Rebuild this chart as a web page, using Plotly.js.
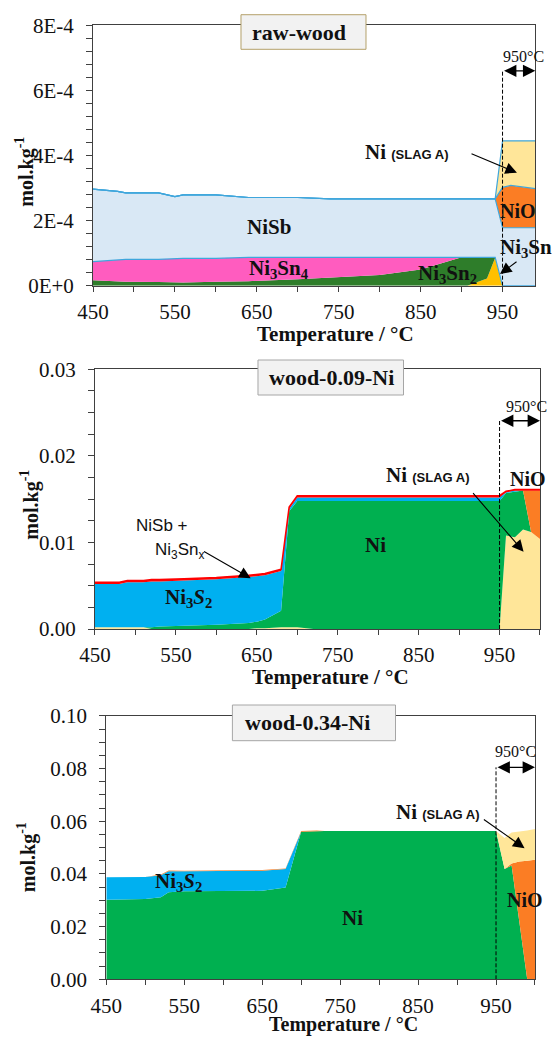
<!DOCTYPE html>
<html>
<head>
<meta charset="utf-8">
<script src="https://cdn.plot.ly/plotly-3.0.1.min.js"></script>
<style>
  html, body { margin: 0; padding: 0; background: #ffffff; }
  #chart { width: 552px; height: 1037px; }
</style>
</head>
<body>
<div id="chart"></div>
<script>
// ---------- raw-wood: Ni species amounts (mol/kg), stacked ----------
const tempRaw     = [450, 480, 490, 530, 550, 560, 600, 620, 640, 700, 740, 800, 850, 898, 907, 931, 941, 950, 960, 990];
const rawNi3Sn    = [0, 0, 0, 0, 0, 0, 0, 0, 0, 0, 0, 0, 0, 0, 0, 0.22e-4, 0.86e-4, 0, 0, 0];
const rawNi3Sn2   = [0.17e-4, 0.12e-4, 0.12e-4, 0.11e-4, 0.10e-4, 0.10e-4, 0.12e-4, 0.13e-4, 0.14e-4, 0.20e-4, 0.25e-4, 0.33e-4, 0.50e-4, 0.86e-4, 0.86e-4, 0.64e-4, 0, 0, 0, 0];
const rawNi3Sn4   = [0.57e-4, 0.67e-4, 0.69e-4, 0.70e-4, 0.74e-4, 0.74e-4, 0.72e-4, 0.73e-4, 0.73e-4, 0.67e-4, 0.62e-4, 0.54e-4, 0.37e-4, 0.01e-4, 0.01e-4, 0.01e-4, 0.01e-4, 0, 0, 0];
const rawNiSb     = [2.23e-4, 2.11e-4, 2.04e-4, 2.04e-4, 1.90e-4, 1.95e-4, 1.95e-4, 1.89e-4, 1.84e-4, 1.84e-4, 1.80e-4, 1.80e-4, 1.80e-4, 1.80e-4, 1.80e-4, 1.80e-4, 1.80e-4, 1.78e-4, 1.78e-4, 1.78e-4];
const rawNiO      = [0, 0, 0, 0, 0, 0, 0, 0, 0, 0, 0, 0, 0, 0, 0, 0, 0, 1.24e-4, 1.30e-4, 1.20e-4];
const rawNiSlag   = [0, 0, 0, 0, 0, 0, 0, 0, 0, 0, 0, 0, 0, 0, 0, 0, 0, 1.43e-4, 1.37e-4, 1.47e-4];
const rawYTicks   = [0, 2e-4, 4e-4, 6e-4, 8e-4];
const rawYLabels  = ['0E+0', '2E-4', '4E-4', '6E-4', '8E-4'];

// ---------- wood-0.09-Ni ----------
const temp009     = [450, 480, 490, 510, 520, 530, 560, 600, 640, 650, 660, 680, 690, 700, 720, 950, 958, 969, 979, 989, 1000];
const w009Slag    = [0.0002, 0.0002, 0.0002, 0.0002, 0, 0, 0, 0, 0, 0.0001, 0.0001, 0.0002, 0.0002, 0.0002, 0, 0, 0.0108, 0.0106, 0.0115, 0.0112, 0.0104];
const w009Ni      = [0, 0, 0, 0, 0.0002, 0.0003, 0.00035, 0.0005, 0.0007, 0.00075, 0.0010, 0.0019, 0.0134, 0.0146, 0.0148, 0.0148, 0.0049, 0.0053, 0.0045, 0, 0];
const w009NiO     = [0, 0, 0, 0, 0, 0, 0, 0, 0, 0, 0, 0, 0, 0, 0, 0, 0, 0, 0, 0.0048, 0.0056];
const w009Ni3S2   = [0.0050, 0.0050, 0.0052, 0.0052, 0.0053, 0.0052, 0.00525, 0.00525, 0.0053, 0.00525, 0.0051, 0.0046, 0.0003, 0.0004, 0.0004, 0.0004, 0.0001, 0.0001, 0, 0, 0];
const w009NiSbSn  = [0.0002, 0.0002, 0.0002, 0.0002, 0.0002, 0.0002, 0.0002, 0.0002, 0.0002, 0.0002, 0.0002, 0.0002, 0.0002, 0.0002, 0.0002, 0.0002, 0.0001, 0.0001, 0.0001, 0.0001, 0.0001];

// ---------- wood-0.34-Ni ----------
const temp034     = [450, 500, 520, 530, 550, 650, 680, 700, 720, 730, 950, 961, 970, 980, 990, 1000];
const w034Ni      = [0.0302, 0.0305, 0.0312, 0.0331, 0.0334, 0.0336, 0.0349, 0.0560, 0.0562, 0.0563, 0.0563, 0.0419, 0.0432, 0.0220, 0, 0];
const w034Ni3S2   = [0.0086, 0.0084, 0.0083, 0.0079, 0.0076, 0.0076, 0.0070, 0, 0, 0, 0, 0, 0, 0, 0, 0];
const w034NiO     = [0, 0, 0.0003, 0.0003, 0.0002, 0.0003, 0.0002, 0.0003, 0.0003, 0, 0, 0, 0.0008, 0.0227, 0.0450, 0.0454];
const w034Slag    = [0, 0, 0, 0, 0, 0, 0, 0, 0, 0, 0, 0.0118, 0.0118, 0.0114, 0.0115, 0.0117];

// ---------- styling ----------
const SERIF = '"Liberation Serif", "DejaVu Serif", serif';
const SANS = '"Liberation Sans", "DejaVu Sans", sans-serif';
const AXIS_COL = '#404040';
const TXT = '#111111';

const C = {
  ni3sn: '#ffc000', ni3sn2: '#2e7d2a', ni3sn4: '#ff5cbf', nisbLight: '#d9e8f5',
  outline: '#3fa6dc', nio: '#fb7d24', slag: '#ffe699', ni: '#00b050',
  ni3s2: '#00b0f0', red: '#ff0000'
};

function area(x, y, name, fill, group, xa, ya, line) {
  return {
    type: 'scatter', mode: 'lines', x: x, y: y, name: name,
    stackgroup: group, fillcolor: fill,
    line: line || { width: 0, color: fill },
    xaxis: xa, yaxis: ya, hoverinfo: 'skip', showlegend: false
  };
}
const blueEdge = { width: 1.2, color: C.outline };

const traces = [
  // raw-wood
  area(tempRaw, rawNi3Sn,  'Ni3Sn',  C.ni3sn,  'p1', 'x', 'y'),
  area(tempRaw, rawNi3Sn2, 'Ni3Sn2', C.ni3sn2, 'p1', 'x', 'y'),
  area(tempRaw, rawNi3Sn4, 'Ni3Sn4', C.ni3sn4, 'p1', 'x', 'y', blueEdge),
  area(tempRaw, rawNiSb,   'NiSb',   C.nisbLight, 'p1', 'x', 'y', blueEdge),
  area(tempRaw, rawNiO,    'NiO',    C.nio,    'p1', 'x', 'y', blueEdge),
  area(tempRaw, rawNiSlag, 'Ni (SLAG A)', C.slag, 'p1', 'x', 'y', blueEdge),
  // wood-0.09-Ni
  area(temp009, w009Slag,   'Ni (SLAG A)', C.slag, 'p2', 'x2', 'y2'),
  area(temp009, w009Ni,     'Ni',    C.ni,    'p2', 'x2', 'y2'),
  area(temp009, w009NiO,    'NiO',   C.nio,   'p2', 'x2', 'y2'),
  area(temp009, w009Ni3S2,  'Ni3S2', C.ni3s2, 'p2', 'x2', 'y2'),
  area(temp009, w009NiSbSn, 'NiSb + Ni3Snx', C.red, 'p2', 'x2', 'y2', { width: 1.6, color: C.red }),
  // wood-0.34-Ni
  area(temp034, w034Ni,    'Ni',    C.ni,    'p3', 'x3', 'y3'),
  area(temp034, w034Ni3S2, 'Ni3S2', C.ni3s2, 'p3', 'x3', 'y3'),
  area(temp034, w034NiO,   'NiO',   C.nio,   'p3', 'x3', 'y3'),
  area(temp034, w034Slag,  'Ni (SLAG A)', C.slag, 'p3', 'x3', 'y3')
];

function xAxis(domain, anchor, range) {
  return {
    domain: domain, anchor: anchor, range: range,
    tick0: 450, dtick: 100, ticks: 'outside', ticklen: 5, tickwidth: 1, tickcolor: AXIS_COL,
    minor: { tick0: 450, dtick: 50, ticks: 'outside', ticklen: 5, tickwidth: 1, tickcolor: AXIS_COL, showgrid: false },
    showline: true, linecolor: AXIS_COL, linewidth: 1, mirror: true,
    showgrid: false, zeroline: false, ticklabelstandoff: 2,
    tickfont: { family: SERIF, size: 21, color: TXT }, fixedrange: true
  };
}
function yAxis(domain, anchor, range, extra) {
  return Object.assign({
    domain: domain, anchor: anchor, range: range,
    ticks: 'outside', ticklen: 6, tickwidth: 1, tickcolor: AXIS_COL,
    showline: true, linecolor: AXIS_COL, linewidth: 1, mirror: true,
    showgrid: false, zeroline: false, ticklabelstandoff: 8,
    tickfont: { family: SERIF, size: 21, color: TXT }, fixedrange: true
  }, extra);
}
function minorY(d) {
  return { tick0: 0, dtick: d, ticks: 'outside', ticklen: 6, tickwidth: 1, tickcolor: AXIS_COL, showgrid: false };
}

function label(xa, ya, x, y, text, size, font) {
  return {
    xref: xa, yref: ya, x: x, y: y, text: text, showarrow: false,
    font: { family: font || SERIF, size: size || 21, color: TXT },
    xanchor: 'center', yanchor: 'middle'
  };
}
function pointer(xa, ya, x, y, ax, ay) {
  return {
    xref: xa, yref: ya, axref: xa, ayref: ya, x: x, y: y, ax: ax, ay: ay,
    text: '', showarrow: true, arrowhead: 2, arrowsize: 2.1, arrowwidth: 1.1, arrowcolor: '#000'
  };
}
function span(xa, ya, x0, x1, y) {
  return {
    xref: xa, yref: ya, axref: xa, ayref: ya, x: x1, y: y, ax: x0, ay: y,
    text: '', showarrow: true, arrowhead: 2, startarrowhead: 2, arrowside: 'end+start',
    arrowsize: 1.9, startarrowsize: 1.9, arrowwidth: 1.3, arrowcolor: '#000'
  };
}
function slagText() {
  return '<b>Ni</b> <span style="font-family:Liberation Sans, sans-serif;font-size:13px;font-weight:bold">(SLAG A)</span>';
}
function paperText(x, y, text, size, angle) {
  return {
    xref: 'paper', yref: 'paper', x: x, y: y, text: text, showarrow: false,
    font: { family: SERIF, size: size, color: TXT }, textangle: angle || 0,
    xanchor: 'center', yanchor: 'middle'
  };
}

const annotations = [
  // raw-wood
  label('x', 'y', 665, 1.81e-4, '<b>NiSb</b>'),
  label('x', 'y', 677, 0.51e-4, '<b>Ni<sub>3</sub>Sn<sub>4</sub></b>'),
  label('x', 'y', 883, 0.36e-4, '<b>Ni<sub>3</sub>Sn<sub>2</sub></b>'),
  label('x', 'y', 969, 2.29e-4, '<b>NiO</b>', 20),
  label('x', 'y', 979, 1.15e-4, '<b>Ni<sub>3</sub>Sn</b>'),
  label('x', 'y', 833, 4.12e-4, slagText()),
  pointer('x', 'y', 946.9, 0.36e-4, 968.9, 0.77e-4),
  pointer('x', 'y', 967.6, 3.47e-4, 910.3, 4.07e-4),
  label('x', 'y', 975, 7.03e-4, '950°C', 16),
  span('x', 'y', 950, 990, 6.6e-4),
  // wood-0.09-Ni
  label('x2', 'y2', 533, 0.01201, 'NiSb +', 17, SANS),
  label('x2', 'y2', 555, 0.00905, 'Ni<sub>3</sub>Sn<sub>x</sub>', 17, SANS),
  pointer('x2', 'y2', 642.4, 0.00586, 582.9, 0.00905),
  label('x2', 'y2', 565.4, 0.00362, '<b>Ni<sub>3</sub><i>S</i><sub>2</sub></b>'),
  label('x2', 'y2', 797.3, 0.0097, '<b>Ni</b>'),
  label('x2', 'y2', 861.6, 0.01779, slagText()),
  pointer('x2', 'y2', 979.7, 0.00893, 915.7, 0.01586),
  label('x2', 'y2', 985.2, 0.01729, '<b>NiO</b>', 20),
  label('x2', 'y2', 983.9, 0.02568, '950°C', 16),
  span('x2', 'y2', 950, 1000, 0.02406),
  // wood-0.34-Ni
  label('x3', 'y3', 542.9, 0.03684, '<b>Ni<sub>3</sub><i>S</i><sub>2</sub></b>'),
  label('x3', 'y3', 766.5, 0.0234, '<b>Ni</b>'),
  label('x3', 'y3', 875.5, 0.0634, slagText()),
  pointer('x3', 'y3', 986.6, 0.0498, 932.5, 0.0611),
  label('x3', 'y3', 987.1, 0.0301, '<b>NiO</b>', 20),
  label('x3', 'y3', 975.6, 0.0864, '950°C', 16),
  span('x3', 'y3', 950, 1000, 0.0805),
  // panel titles
  paperText(0.54167, 0.96847, '<b>raw-wood</b>', 22),
  paperText(0.60054, 0.63597, '<b>wood-0.09-Ni</b>', 22),
  paperText(0.55761, 0.30280, '<b>wood-0.34-Ni</b>', 22),
  // axis titles
  paperText(0.04529, 0.83443, '<b>mol.kg<sup>-1</sup></b>', 20, -90),
  paperText(0.05344, 0.51379, '<b>mol.kg<sup>-1</sup></b>', 20, -90),
  paperText(0.04837, 0.17310, '<b>mol.kg<sup>-1</sup></b>', 20, -90),
  paperText(0.6069, 0.6780, '<b>Temperature / °C</b>', 21),
  paperText(0.59873, 0.3469, '<b>Temperature / °C</b>', 21),
  paperText(0.62138, 0.0122, '<b>Temperature / °C</b>', 20)
];

function dashed(xa, ya, x, yTop) {
  return {
    type: 'line', xref: xa, yref: ya, x0: x, x1: x, y0: 0, y1: yTop,
    line: { color: '#000', width: 1, dash: '4px,2px' }, layer: 'above'
  };
}
function titleBox(x0, x1, y0, y1, border) {
  return {
    type: 'rect', xref: 'paper', yref: 'paper', x0: x0, x1: x1, y0: y0, y1: y1,
    fillcolor: '#f2f2f2', line: { color: border, width: 1 }, layer: 'above'
  };
}

const shapes = [
  dashed('x', 'y', 950, 6.6e-4),
  dashed('x2', 'y2', 950, 0.02406),
  dashed('x3', 'y3', 950, 0.0805),
  titleBox(0.43659, 0.66304, 0.95246, 0.98582, '#b4a06a'),
  titleBox(0.46739, 0.73098, 0.61909, 0.65284, '#a6a6a6'),
  titleBox(0.42101, 0.71649, 0.28573, 0.32015, '#a6a6a6')
];

const layout = {
  width: 552, height: 1037,
  margin: { l: 0, r: 0, t: 0, b: 0 },
  paper_bgcolor: '#ffffff', plot_bgcolor: '#ffffff',
  showlegend: false,
  xaxis:  xAxis([0.16848, 0.96975], 'y',  [450, 990]),
  xaxis2: xAxis([0.17210, 0.97826], 'y2', [450, 1000]),
  xaxis3: xAxis([0.19257, 0.96920], 'y3', [450, 1000]),
  yaxis:  yAxis([0.72449, 0.97560], 'x',  [0, 8e-4], { tickmode: 'array', tickvals: rawYTicks, ticktext: rawYLabels, minor: minorY(0.4e-4) }),
  yaxis2: yAxis([0.39344, 0.64387], 'x2', [0, 0.03], { tick0: 0, dtick: 0.01, tickformat: '.2f', minor: minorY(0.0025) }),
  yaxis3: yAxis([0.05564, 0.30955], 'x3', [0, 0.1],  { tick0: 0, dtick: 0.02, tickformat: '.2f', minor: minorY(0.005) }),
  annotations: annotations,
  shapes: shapes
};

Plotly.newPlot('chart', traces, layout, { staticPlot: true, displayModeBar: false });
</script>
</body>
</html>
